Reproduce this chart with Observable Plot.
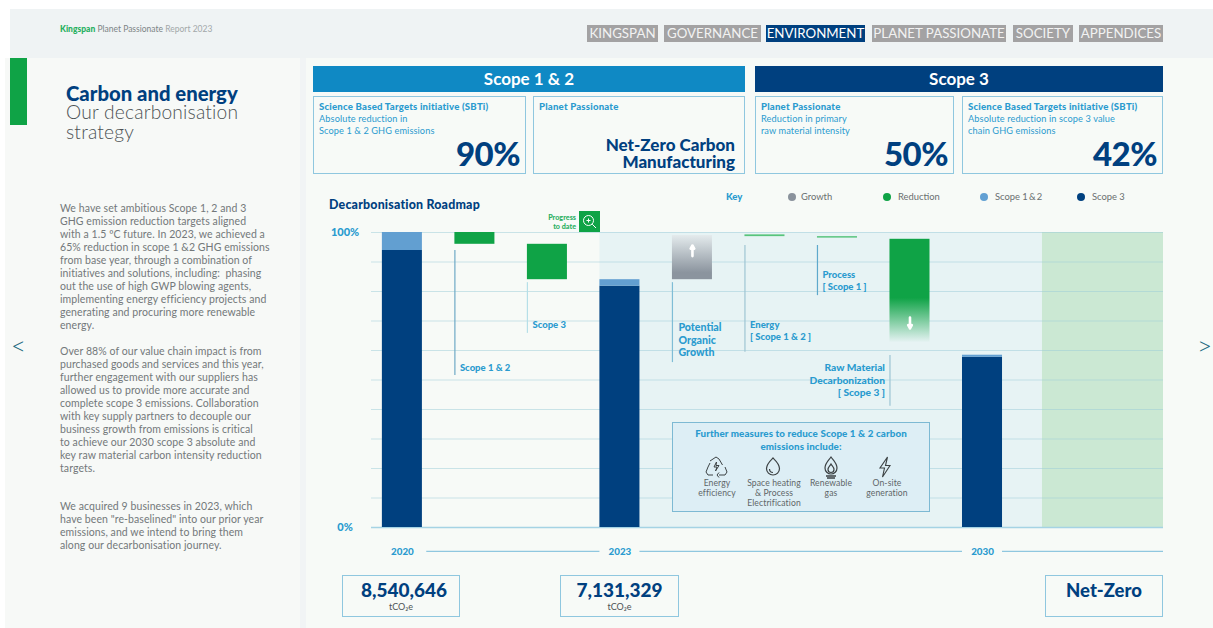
<!DOCTYPE html>
<html>
<head>
<meta charset="utf-8">
<script src="https://cdn.jsdelivr.net/npm/d3@7"></script>
<script src="https://cdn.jsdelivr.net/npm/@observablehq/plot@0.6"></script>
<style>
html,body{margin:0;padding:0;background:#fff;}
#page{position:relative;width:1213px;height:628px;overflow:hidden;background:#fff;font-family:Lato,sans-serif;}
.a{position:absolute;white-space:nowrap;}
.box{position:absolute;box-sizing:border-box;border:1.5px solid #8fc7df;}
.nav{position:absolute;top:25px;height:17px;line-height:17px;background:#a3a2a3;color:#f2f2f2;font-size:13.3px;text-align:center;white-space:nowrap;}
.bt{color:#2a9bcf;font-size:9.2px;line-height:12px;position:absolute;white-space:nowrap;left:5px;top:4px;letter-spacing:.1px;}
.bt b{font-weight:900;font-size:9.6px;letter-spacing:.2px;}
.big{position:absolute;color:#00407f;font-weight:900;font-size:33px;right:5px;bottom:0;line-height:40px;letter-spacing:-.5px;}
.body{position:absolute;left:60px;color:#73787a;font-size:10.5px;line-height:13px;white-space:nowrap;letter-spacing:.08px;}
.lg{position:absolute;top:192px;font-size:9.4px;line-height:10px;color:#6a6f70;white-space:nowrap;}
.dot{position:absolute;top:193px;width:8px;height:8px;border-radius:50%;}
.ic{position:absolute;top:455px;width:24px;height:24px;}
.icl{position:absolute;top:478px;width:76px;text-align:center;font-size:8.6px;line-height:10px;color:#5f6668;letter-spacing:.1px;}
#chart{position:absolute;left:322px;top:225px;}
#chart svg{display:block;background:transparent;}
</style>
</head>
<body>
<div id="page">
  <div class="a" style="left:5px;top:58px;width:1208px;height:570px;background:#f1f4f5"></div>
  <div class="a" style="left:5px;top:58px;width:295px;height:570px;background:#f7f9f7"></div>
  <div class="a" style="left:306px;top:58px;width:907px;height:570px;background:#f7faf7"></div>
  <div class="a" style="left:10px;top:9px;width:1203px;height:49px;background:#eff3f4"></div>
  <div class="a" style="left:10px;top:58px;width:17px;height:67px;background:#0fa346"></div>

  <div class="a" style="left:60px;top:24px;font-size:8.5px;line-height:10px;color:#7d8486"><b style="color:#27b060;font-weight:900">Kingspan</b> Planet Passionate <span style="color:#a3a8aa">Report 2023</span></div>

  <div class="nav" style="left:587px;width:71px">KINGSPAN</div>
  <div class="nav" style="left:664px;width:97px">GOVERNANCE</div>
  <div class="nav" style="left:766px;width:99px;background:#00407f;color:#fff">ENVIRONMENT</div>
  <div class="nav" style="left:872px;width:134px">PLANET PASSIONATE</div>
  <div class="nav" style="left:1013px;width:60px">SOCIETY</div>
  <div class="nav" style="left:1079px;width:84px">APPENDICES</div>

  <div class="a" style="left:66px;top:84px;font-size:20.3px;line-height:18px;font-weight:900;color:#00407f">Carbon and energy</div>
  <div class="a" style="left:66px;top:102px;font-size:19.2px;line-height:19.5px;font-weight:300;color:#4c5254;letter-spacing:.2px">Our decarbonisation<br>strategy</div>

  <div class="body" style="top:202px">We have set ambitious Scope 1, 2 and 3<br>GHG emission reduction targets aligned<br>with a 1.5 ºC future. In 2023, we achieved a<br>65% reduction in scope 1 &amp;2 GHG emissions<br>from base year, through a combination of<br>initiatives and solutions, including:&nbsp; phasing<br>out the use of high GWP blowing agents,<br>implementing energy efficiency projects and<br>generating and procuring more renewable<br>energy.</div>
  <div class="body" style="top:345px">Over 88% of our value chain impact is from<br>purchased goods and services and this year,<br>further engagement with our suppliers has<br>allowed us to provide more accurate and<br>complete scope 3 emissions. Collaboration<br>with key supply partners to decouple our<br>business growth from emissions is critical<br>to achieve our 2030 scope 3 absolute and<br>key raw material carbon intensity reduction<br>targets.</div>
  <div class="body" style="top:500px">We acquired 9 businesses in 2023, which<br>have been "re-baselined" into our prior year<br>emissions, and we intend to bring them<br>along our decarbonisation journey.</div>

  <div class="a" style="left:11px;top:331px;font-size:26px;line-height:28px;font-weight:300;color:#1c6a80">&lt;</div>
  <div class="a" style="left:1197px;top:331px;font-size:26px;line-height:28px;font-weight:300;color:#1c6a80">&gt;</div>

  <div class="a" style="left:313px;top:66px;width:432px;height:26px;line-height:26px;background:#0f89c4;color:#fff;text-align:center;font-size:17px;font-weight:700">Scope 1 &amp; 2</div>
  <div class="a" style="left:755px;top:66px;width:408px;height:26px;line-height:26px;background:#00407f;color:#fff;text-align:center;font-size:17px;font-weight:700">Scope 3</div>

  <div class="box" style="left:313px;top:96px;width:213px;height:78px"><div class="bt"><b>Science Based Targets initiative (SBTi)</b><br>Absolute reduction in<br>Scope 1 &amp; 2 GHG emissions</div><div class="big">90%</div></div>
  <div class="box" style="left:533px;top:96px;width:212px;height:78px"><div class="bt"><b>Planet Passionate</b></div><div class="a" style="right:9px;top:39px;text-align:right;font-size:17px;line-height:17px;font-weight:900;color:#00407f">Net-Zero Carbon<br>Manufacturing</div></div>
  <div class="box" style="left:755px;top:96px;width:199px;height:78px"><div class="bt"><b>Planet Passionate</b><br>Reduction in primary<br>raw material intensity</div><div class="big">50%</div></div>
  <div class="box" style="left:962px;top:96px;width:201px;height:78px"><div class="bt"><b>Science Based Targets initiative (SBTi)</b><br>Absolute reduction in scope 3 value<br>chain GHG emissions</div><div class="big">42%</div></div>

  <div class="a" style="left:329px;top:198px;font-size:12.4px;line-height:14px;font-weight:900;color:#00407f;letter-spacing:.2px">Decarbonisation Roadmap</div>

  <div class="lg" style="left:726px;color:#2a9bcf;font-weight:900;font-size:9.6px">Key</div>
  <div class="dot" style="left:788px;background:#8a929c"></div><div class="lg" style="left:801px">Growth</div>
  <div class="dot" style="left:883px;background:#0fa346"></div><div class="lg" style="left:898px">Reduction</div>
  <div class="dot" style="left:980px;background:#62a0d3"></div><div class="lg" style="left:995px">Scope 1&thinsp;&amp;&thinsp;2</div>
  <div class="dot" style="left:1077px;background:#00407f"></div><div class="lg" style="left:1092px">Scope 3</div>

  <div id="chart"></div>

  <div class="a" style="left:520px;top:213px;width:56px;text-align:right;font-size:7.2px;line-height:9px;font-weight:900;color:#2bb062">Progress<br>to date</div>
  <div class="a" style="left:579px;top:211px;width:21px;height:21px;background:#0fa346">
    <svg width="21" height="21" viewBox="0 0 21 21" fill="none" stroke="#fff" stroke-width="1"><circle cx="9.5" cy="9.5" r="5"/><path d="M13.2 13.2L17 17M7.5 9.5h4M9.5 7.5v4"/></svg>
  </div>

  <div class="box" style="left:672px;top:422px;width:258px;height:90px;background:#ddeef5;border-color:#7db9d3"></div>
  <div class="a" style="left:672px;top:427px;width:258px;text-align:center;font-size:9.8px;line-height:13px;font-weight:900;color:#2a9bcf;letter-spacing:.1px">Further measures to reduce Scope 1 &amp; 2 carbon<br>emissions include:</div>

  <svg class="ic" style="left:704px" viewBox="0 0 24 24" fill="none" stroke="#3c4244" stroke-width="1"><path d="M9 4l3-2 3 2 3.5 6M21 12l2 5-2 3h-6M9 20H4l-2-3 2-5 2-4"/><path d="M12.5 7l-2.5 5h3l-1.5 4 3.5-5.5h-3z"/><path d="M6 6l3-2M15 17.5l-2 2.5 2 2.5"/></svg>
  <svg class="ic" style="left:761px" viewBox="0 0 24 24" fill="none" stroke="#3c4244" stroke-width="1.2"><path d="M12 3c3 3 6.500 6 6.500 10.500a6.500 6.500 0 0 1-13 0C5.500 9 9 6 12 3z"/><path d="M8.500 14a3.600 3.600 0 0 0 3.500 3.500"/></svg>
  <svg class="ic" style="left:819px" viewBox="0 0 24 24" fill="none" stroke="#3c4244" stroke-width="1.2"><path d="M12 2c2 3 6 6 6 11a6 6 0 0 1-12 0c0-5 4-8 6-11z"/><path d="M12 9c1 2 3 3 3 5.500a3 3 0 0 1-6 0C9 12 11 11 12 9z"/><path d="M7 21h10M8 23h8" stroke-width="1.600"/></svg>
  <svg class="ic" style="left:873px" viewBox="0 0 24 24" fill="none" stroke="#3c4244" stroke-width="1.100"><path d="M14.500 2L7 13h4.500L9.500 22 17 10.500h-4.500z"/></svg>

  <div class="icl" style="left:679px">Energy<br>efficiency</div>
  <div class="icl" style="left:736px">Space heating<br>&amp; Process<br>Electrification</div>
  <div class="icl" style="left:793px">Renewable<br>gas</div>
  <div class="icl" style="left:849px">On-site<br>generation</div>

  <div class="box" style="left:342px;top:575px;width:118px;height:42px"></div>
  <div class="box" style="left:560px;top:575px;width:119px;height:42px"></div>
  <div class="box" style="left:1045px;top:575px;width:118px;height:42px"></div>
  <div class="a" style="left:345px;top:579px;width:118px;text-align:center;font-size:19px;line-height:22px;font-weight:900;color:#00407f">8,540,646</div>
  <div class="a" style="left:560px;top:579px;width:119px;text-align:center;font-size:19px;line-height:22px;font-weight:900;color:#00407f">7,131,329</div>
  <div class="a" style="left:1045px;top:579px;width:118px;text-align:center;font-size:18.5px;line-height:22px;font-weight:900;color:#00407f">Net-Zero</div>
  <div class="a" style="left:342px;top:601px;width:118px;text-align:center;font-size:9px;line-height:12px;color:#4d5355">tCO₂e</div>
  <div class="a" style="left:560px;top:601px;width:119px;text-align:center;font-size:9px;line-height:12px;color:#4d5355">tCO₂e</div>
</div>

<script>
// ---- data (percent of the 2020 base year) ----
const steps = ["2020", "Scope 1 & 2", "Scope 3", "2023", "Potential Organic Growth", "Energy", "Process", "Raw Material Decarbonization", "2030"];
const segmentStep   = ["2020", "2020", "Scope 1 & 2", "Scope 3", "2023", "2023", "Potential Organic Growth", "Energy", "Process", "Raw Material Decarbonization", "2030", "2030"];
const segmentFrom   = [0, 93.9, 96, 84, 0, 81.8, 84, 98.6, 98.1, 62.6, 0, 57.7];
const segmentTo     = [93.9, 100, 100, 96, 81.8, 84, 99, 99.2, 98.6, 97.7, 57.7, 58.4];
const segmentSeries = ["Scope 3", "Scope 1 & 2", "Reduction", "Reduction", "Scope 3", "Scope 1 & 2", "GrowthFade", "Thin", "Thin", "ReductionFade", "Scope 3", "Scope 1 & 2"];

const labelStep  = ["Scope 1 & 2", "Scope 3", "Energy", "Process"];
const labelText  = ["Scope 1 & 2", "Scope 3", "Energy\n[ Scope 1 & 2 ]", "Process\n[ Scope 1 ]"];
const labelAt    = [56, 70.5, 70.5, 87.5];
const leaderStep = ["Scope 1 & 2", "Scope 3", "Potential Organic Growth", "Energy", "Process"];
const leaderFrom = [51.5, 65.8, 55.9, 59.4, 78.6];
const leaderTo   = [93.9, 83, 83, 95.6, 95.6];
const leaderTone = ["#6ea9c6", "#b6dfe8", "#7fbdd6", "#9fc5d3", "#5ea9cc"];

const growthLabelText = "Potential\nOrganic\nGrowth";
const growthLabelAt = 69.5;
const rawLabelText = "Raw Material\nDecarbonization\n[ Scope 3 ]";
const rawLabelAt = 55.9;
const rawLeader = [41.1, 58.3];

const gridTicks = [10, 20, 30, 40, 50, 60, 70, 80, 90, 100];
const axisTicks = [0, 100];
const milestones = ["2020", "2023", "2030"];
const timelineY = -8.1;

// ---- layout of the step scale ----
const barSpan = 0.552;
const roadmapEnd = 10.772;
const netZeroStart = 9.103;
const pos = name => steps.indexOf(name);

const segments = segmentStep.map((s, i) => ({step: s, x1: pos(s), x2: pos(s) + barSpan, y1: segmentFrom[i], y2: segmentTo[i], series: segmentSeries[i]}));
const labels = labelStep.map((s, i) => ({x: pos(s), y: labelAt[i], text: labelText[i]}));
const leaders = leaderStep.map((s, i) => ({x: pos(s), from: leaderFrom[i], to: leaderTo[i], tone: leaderTone[i]}));
const colors = {"Scope 3": "#00407f", "Scope 1 & 2": "#629fd1", "Reduction": "#0fa346", "GrowthFade": "url(#fadeGrey)", "Thin": "#58c47c", "ReductionFade": "url(#fadeGreen)"};

const grad = () => {
  const defs = d3.create("svg:defs");
  const g1 = defs.append("linearGradient").attr("id", "fadeGrey").attr("x1", 0).attr("x2", 0).attr("y1", 0).attr("y2", 1);
  g1.append("stop").attr("offset", "0%").attr("stop-color", "#e4ebed");
  g1.append("stop").attr("offset", "85%").attr("stop-color", "#8b949e");
  g1.append("stop").attr("offset", "100%").attr("stop-color", "#8b949e");
  const g2 = defs.append("linearGradient").attr("id", "fadeGreen").attr("x1", 0).attr("x2", 0).attr("y1", 0).attr("y2", 1);
  g2.append("stop").attr("offset", "0%").attr("stop-color", "#0fa346");
  g2.append("stop").attr("offset", "57%").attr("stop-color", "#0fa346");
  g2.append("stop").attr("offset", "100%").attr("stop-color", "#e7f3f4");
  return defs.node();
};

const labelStyle = {fontWeight: 900, fill: "#2a9bcf", lineHeight: 1.28};
const growthCentre = pos("Potential Organic Growth") + barSpan / 2;
const rawCentre = pos("Raw Material Decarbonization") + barSpan / 2;

const chart = Plot.plot({
  width: 848,
  height: 340,
  marginLeft: 49,
  marginRight: 7,
  marginTop: 7,
  marginBottom: 38,
  style: {background: "transparent", fontFamily: "Lato, sans-serif", overflow: "visible"},
  x: {domain: [-0.15, roadmapEnd], axis: null},
  y: {domain: [0, 100], axis: null},
  marks: [
    grad,
    Plot.rect([{}], {x1: pos("2023"), x2: netZeroStart, y1: 0, y2: 100, fill: "#e7f3f4"}),
    Plot.rect([{}], {x1: netZeroStart, x2: roadmapEnd, y1: 0, y2: 100, fill: "#cbe8d3"}),
    Plot.ruleY(gridTicks, {x1: -0.15, x2: roadmapEnd, stroke: "#9ccbd8", strokeOpacity: 0.5, strokeWidth: 1.1}),
    Plot.ruleY([0], {x1: -0.15, x2: roadmapEnd, stroke: "#a5d3e4", strokeWidth: 1.5}),
    Plot.rect(segments, {x1: "x1", x2: "x2", y1: "y1", y2: "y2", fill: d => colors[d.series]}),
    Plot.ruleX(leaders, {x: "x", y1: "from", y2: "to", stroke: "tone", strokeWidth: 1.2}),
    Plot.text(labels, {x: "x", y: "y", text: "text", textAnchor: "start", lineAnchor: "top", dx: 5, fontSize: 9.5, ...labelStyle}),
    Plot.text([growthLabelText], {x: pos("Potential Organic Growth"), y: growthLabelAt, text: d => d, textAnchor: "start", lineAnchor: "top", dx: 6, fontSize: 10.6, ...labelStyle, lineHeight: 1.18}),
    Plot.ruleX([pos("Raw Material Decarbonization")], {y1: rawLeader[0], y2: rawLeader[1], stroke: "#9cc4d4", strokeWidth: 1.2}),
    Plot.text([rawLabelText], {x: pos("Raw Material Decarbonization"), y: rawLabelAt, text: d => d, textAnchor: "end", lineAnchor: "top", dx: -5, fontSize: 10.2, ...labelStyle, lineHeight: 1.22}),
    Plot.arrow([{}], {x1: growthCentre, x2: growthCentre, y1: 92, y2: 95.6, stroke: "#fff", strokeWidth: 2.6, headLength: 9, bend: 0}),
    Plot.arrow([{}], {x1: rawCentre, x2: rawCentre, y1: 71.2, y2: 67.5, stroke: "#fff", strokeWidth: 2.6, headLength: 9, bend: 0}),
    Plot.ruleY([timelineY], {x1: pos("2020") + barSpan + 0.06, x2: pos("2023"), stroke: "#8fc7df", strokeWidth: 1.3}),
    Plot.ruleY([timelineY], {x1: pos("2023") + barSpan, x2: pos("2030"), stroke: "#8fc7df", strokeWidth: 1.3}),
    Plot.ruleY([timelineY], {x1: pos("2030") + barSpan, x2: roadmapEnd, stroke: "#8fc7df", strokeWidth: 1.3}),
    Plot.text(milestones, {x: d => pos(d) + barSpan / 2, y: timelineY, text: d => d, fontSize: 9.8, fontWeight: 900, fill: "#2a9bcf"}),
    Plot.text(axisTicks, {x: -0.15, y: d => d, text: d => d + "%", textAnchor: "middle", dx: -26.5, fontSize: 11, fontWeight: 900, fill: "#2a9bcf"})
  ]
});
document.getElementById("chart").appendChild(chart);
</script>
</body>
</html>
